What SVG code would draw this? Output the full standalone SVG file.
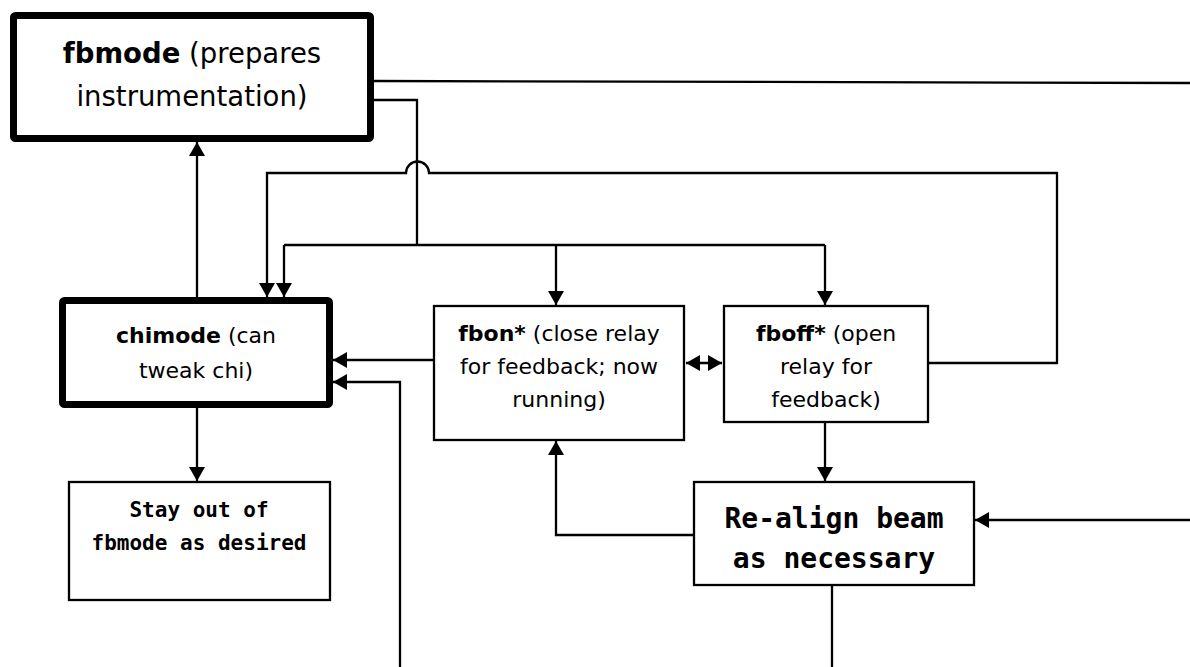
<svg xmlns="http://www.w3.org/2000/svg" width="1190" height="667" viewBox="0 0 1190 667">
  <style>
    .box { fill: #fff; stroke: #000; stroke-width: 2.3; }
    .thick { stroke-width: 7; }
    .lbl { font-family: "DejaVu Sans", sans-serif; font-size: 22px; fill: #000; text-anchor: middle; }
    .mono { font-family: "DejaVu Sans Mono", "Liberation Mono", monospace; font-weight: bold; fill: #000; text-anchor: middle; }
    .b { font-weight: bold; }
    .wire { fill: none; stroke: #000; stroke-width: 2.3; }
    .arr { marker-end: url(#head); }
  </style>
  <defs>
    <marker id="head" markerUnits="userSpaceOnUse" markerWidth="15" markerHeight="16" refX="14" refY="8" orient="auto">
      <path d="M0,0 L14,8 L0,16 z" fill="#000"/>
    </marker>
    <marker id="tail" markerUnits="userSpaceOnUse" markerWidth="15" markerHeight="16" refX="0" refY="8" orient="auto">
      <path d="M14,0 L0,8 L14,16 z" fill="#000"/>
    </marker>
  </defs>
  <rect width="1190" height="667" fill="#fff"/>

  <g id="connectors">
    <!-- chimode up to fbmode -->
    <path class="wire arr" d="M197,297 V142"/>
    <!-- fbmode off to the right -->
    <path class="wire" d="M374,81 L1190,83"/>
    <!-- fbmode down to the distribution bus -->
    <path class="wire" d="M374,100 H417 V245"/>
    <path class="wire" d="M284,245 H825"/>
    <path class="wire arr" d="M284,245 V297"/>
    <path class="wire arr" d="M556,245 V305"/>
    <path class="wire arr" d="M825,245 V305"/>
    <!-- fboff back round to chimode, hopping over the fbmode drop -->
    <path class="wire arr" d="M929,363 H1057 V173 H429 A11.5,11.5 0 0 0 406,173 H267 V297"/>
    <!-- fbon to chimode -->
    <path class="wire arr" d="M433,360 H333"/>
    <!-- from below into chimode -->
    <path class="wire arr" d="M400,667 V382 H333"/>
    <!-- fbon <-> fboff -->
    <path class="wire" d="M686,363 H722" marker-start="url(#tail)" marker-end="url(#head)"/>
    <!-- fboff to re-align -->
    <path class="wire arr" d="M825,423 V481"/>
    <!-- from the right into re-align -->
    <path class="wire arr" d="M1190,520 H975"/>
    <!-- re-align back to fbon -->
    <path class="wire arr" d="M693,535 H556 V441"/>
    <!-- re-align downwards -->
    <path class="wire" d="M832,586 V667"/>
    <!-- chimode to stay-out -->
    <path class="wire arr" d="M197,408 V481"/>
  </g>

  <g id="fbmode">
    <rect class="box thick" x="13.5" y="15.5" width="357" height="123" rx="2"/>
    <text class="lbl" x="192" y="63" style="font-size:27.5px"><tspan class="b">fbmode</tspan> (prepares</text>
    <text class="lbl" x="192" y="106" style="font-size:27.5px">instrumentation)</text>
  </g>

  <g id="chimode">
    <rect class="box thick" x="62.5" y="300.5" width="267" height="104" rx="2"/>
    <text class="lbl" x="196" y="343"><tspan class="b">chimode</tspan> (can</text>
    <text class="lbl" x="196" y="378">tweak chi)</text>
  </g>

  <g id="fbon">
    <rect class="box" x="434" y="306" width="250" height="134"/>
    <text class="lbl" x="559" y="341"><tspan class="b">fbon*</tspan> (close relay</text>
    <text class="lbl" x="559" y="374">for feedback; now</text>
    <text class="lbl" x="559" y="407">running)</text>
  </g>

  <g id="fboff">
    <rect class="box" x="724" y="306" width="204" height="116"/>
    <text class="lbl" x="826" y="341"><tspan class="b">fboff*</tspan> (open</text>
    <text class="lbl" x="826" y="374">relay for</text>
    <text class="lbl" x="826" y="407">feedback)</text>
  </g>

  <g id="stay-out">
    <rect class="box" x="69" y="482" width="261" height="118"/>
    <text class="mono" x="199" y="517" font-size="21">Stay out of</text>
    <text class="mono" x="199" y="550" font-size="21">fbmode as desired</text>
  </g>

  <g id="realign">
    <rect class="box" x="694" y="482" width="280" height="103"/>
    <text class="mono" x="834" y="528" font-size="28">Re-align beam</text>
    <text class="mono" x="834" y="568" font-size="28">as necessary</text>
  </g>
</svg>
